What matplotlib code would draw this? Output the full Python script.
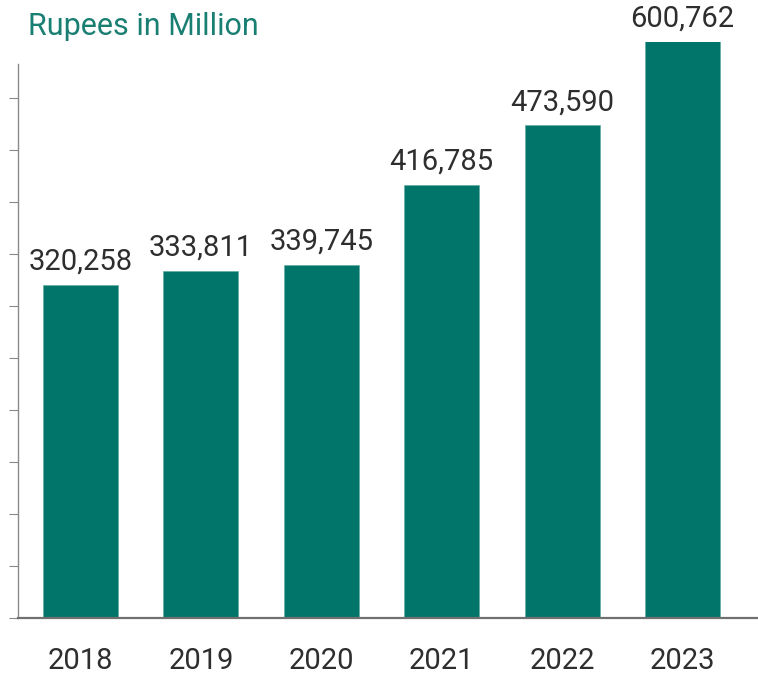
import matplotlib

matplotlib.use("Agg")

import matplotlib.pyplot as plt

# data
years = ["2018", "2019", "2020", "2021", "2022", "2023"]
values = [320258, 333811, 339745, 416785, 473590, 600762]
title = "Rupees in Million"

BAR_COLOR = "#01756a"
TITLE_COLOR = "#1a7f73"
TEXT_COLOR = "#2e2e2e"
AXIS_COLOR = "#8a8a8a"

plt.rcParams["font.family"] = ["Roboto", "DejaVu Sans"]

fig = plt.figure(figsize=(7.58, 6.77), dpi=100)
ax = fig.add_axes([18 / 758, 59 / 677, 739 / 758, 576 / 677])

x = list(range(len(years)))
ax.bar(x, values, width=0.623, color=BAR_COLOR, edgecolor="#5aa89f", linewidth=0.4, zorder=2)

ymax = 553800
ax.set_ylim(0, ymax)
ax.set_xlim(-0.52, 5.62)

# value labels, held just above the visible bar top
for xi, v in zip(x, values):
    top = min(v, ymax)
    ax.annotate(f"{v:,}", (xi, top), xytext=(0, 6.5), textcoords="offset points",
                ha="center", va="bottom", fontsize=21,
                color=TEXT_COLOR, annotation_clip=False)

ax.set_xticks(x)
ax.set_xticklabels(years, fontsize=21, color=TEXT_COLOR)
ax.tick_params(axis="x", length=0, pad=21)

ax.set_yticks(range(0, 500001, 50000))
ax.set_yticklabels([])
ax.tick_params(axis="y", direction="out", length=6.5, width=0.8, color=AXIS_COLOR)

for side in ("top", "right"):
    ax.spines[side].set_visible(False)
ax.spines["left"].set_color(AXIS_COLOR)
ax.spines["left"].set_linewidth(1.0)
ax.spines["left"].set_bounds(0, 533000)
ax.spines["bottom"].set_color("#707070")
ax.spines["bottom"].set_linewidth(1.6)

fig.text(28 / 758, 1 - 35 / 677, title, fontsize=22, color=TITLE_COLOR,
         ha="left", va="baseline")

fig.savefig("out.png", dpi=100)
